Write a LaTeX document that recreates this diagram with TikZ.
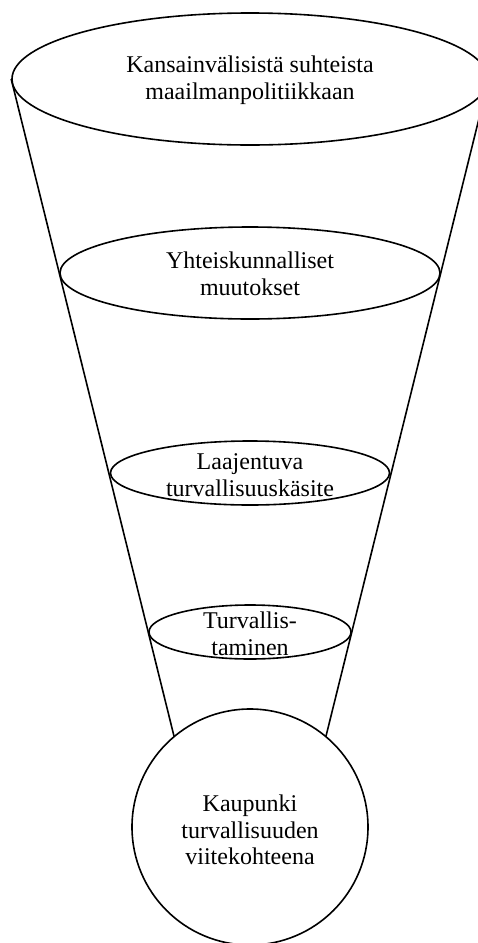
\documentclass[tikz,border=0pt]{standalone}
\usepackage{fontspec}
\setmainfont{Liberation Serif}
\usetikzlibrary{shapes.geometric,calc,backgrounds}

\begin{document}
\begin{tikzpicture}[x=1pt,y=-1pt,
  taso/.style={ellipse, draw, fill=white, line width=1.6pt, inner sep=0pt},
  teksti/.style={align=center, inner sep=0pt, font=\fontsize{24}{26.5}\selectfont}]
\useasboundingbox (0,0) rectangle (478,943);
% Tasot ylhäältä alas
\node[taso, minimum width=476pt, minimum height=132pt] (e1) at (250,79) {};
\node[taso, minimum width=380pt, minimum height=92pt] (e2) at (250,273) {};
\node[taso, minimum width=279pt, minimum height=64pt] (e3) at (250,473) {};
\node[taso, minimum width=202pt, minimum height=54pt] (e4) at (250,632) {};
% Kaupunki
\node[taso, circle, minimum size=236pt] (k) at (250,827) {};
% Suppilon reunat
\begin{scope}[on background layer]
\draw[line width=1.6pt] (e1.west) -- ($(e1.west)!1.25!(e4.west)$);
\draw[line width=1.6pt] (e1.east) -- ($(e1.east)!1.25!(e4.east)$);
\end{scope}
% Tekstit
\node[teksti] (t1) at ($(e1)+(0,1)$) {Kansainvälisistä suhteista\\maailmanpolitiikkaan};
\node[teksti] (t2) at ($(e2)+(0,1)$) {Yhteiskunnalliset\\muutokset};
\node[teksti] (t3) at ($(e3)+(0,2)$) {Laajentuva\\turvallisuuskäsite};
\node[teksti] (t4) at ($(e4)+(0,2)$) {Turvallis-\\taminen};
\node[teksti] (t5) at ($(k)+(0,3)$) {Kaupunki\\turvallisuuden\\viitekohteena};
\end{tikzpicture}
\end{document}
